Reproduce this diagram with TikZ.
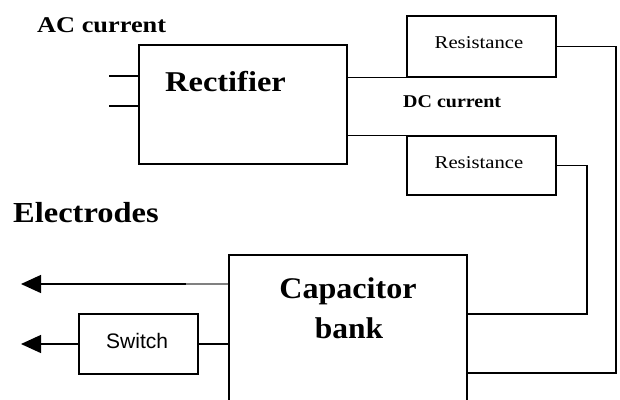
\documentclass[tikz,border=0pt]{standalone}
\usepackage{fontspec}
\setmainfont{Liberation Serif}
\newfontfamily\swfont{Liberation Sans}
\usetikzlibrary{arrows.meta}
\newcommand\fsz[2]{\fontsize{#1}{#1}\selectfont\addfontfeatures{FakeStretch=#2}}
\begin{document}
\begin{tikzpicture}[x=1pt,y=-1pt,
  box/.style={draw, line width=1.3pt, inner sep=0pt, rectangle},
  wire/.style={line width=1.3pt},
  lbl/.style={inner sep=0pt, anchor=base west},
  tipped/.style={wire, -{Triangle[length=20pt,width=18pt]}}]
\useasboundingbox (0,0) rectangle (620,399);
\clip (0,0) rectangle (620,399);

% boxes
\node[box, minimum width=208pt, minimum height=119pt] (rect) at (243,104.5) {};
\node[box, minimum width=149pt, minimum height=61pt] (r1) at (481.5,46.5) {};
\node[box, minimum width=149pt, minimum height=59pt] (r2) at (481.5,165.5) {};
\node[box, minimum width=238pt, minimum height=170pt] (cap) at (348,340) {};
\node[box, minimum width=119pt, minimum height=60pt] (sw) at (138.5,344) {};

% labels
\node[lbl, font={\bfseries\fsz{22.5}{1.17}}] (ac) at (37,32) {AC current};
\node[lbl, font={\bfseries\fsz{28.7}{1.13}}] (rl) at (165,91) {Rectifier};
\node[lbl, font={\bfseries\fsz{18}{1.11}}] (dc) at (403,107) {DC current};
\node[lbl, font={\fsz{18}{1.15}}] (rt1) at (434.5,48) {Resistance};
\node[lbl, font={\fsz{18}{1.15}}] (rt2) at (434.5,168) {Resistance};
\node[lbl, font={\bfseries\fsz{29}{1.12}}] (el) at (13,222) {Electrodes};
\node[inner sep=0pt, anchor=base, font={\bfseries\fsz{30}{1.07}}] (capt) at (348,298) {Capacitor};
\node[inner sep=0pt, anchor=base, font={\bfseries\fsz{30}{1.05}}] (bank) at (349,338) {bank};
\node[lbl, font={\swfont\fontsize{21}{21}\selectfont}] (swt) at (106,348) {Switch};

% AC inputs
\coordinate (a1) at (109,76);
\coordinate (a2) at (109,106);
\draw[wire] (a1) -- (a1 -| rect.west);
\draw[wire] (a2) -- (a2 -| rect.west);

% rectifier to resistances
\draw[wire] (rect.east |- r1.south) -- (r1.south west);
\draw[wire] (rect.east |- r2.north) -- (r2.north west);

% resistances to capacitor bank
\coordinate (c1) at (616,373);
\coordinate (c2) at (587,314);
\draw[wire] (r1.east) -| (c1) -- (c1 -| cap.east);
\draw[wire] (r2.east) -| (c2) -- (c2 -| cap.east);

% electrodes
\coordinate (e1) at (21,284);
\coordinate (g1) at (186,284);
\draw[tipped] (g1) -- (e1);
\draw[wire, color=gray] (e1 -| cap.west) -- (g1);
\coordinate (e2) at (21,344);
\draw[wire] (sw.east) -- (sw.east -| cap.west);
\draw[tipped] (sw.west) -- (e2);
\end{tikzpicture}
\end{document}
